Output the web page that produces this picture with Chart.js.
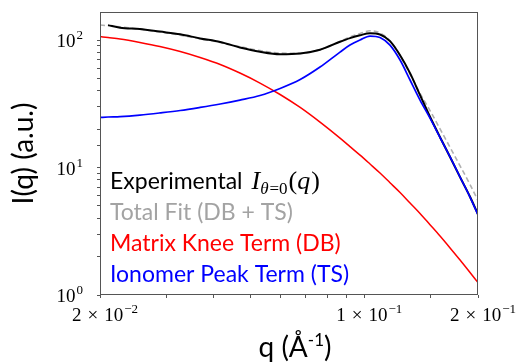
<!DOCTYPE html>
<html>
<head>
<meta charset="utf-8">
<script src="https://cdn.jsdelivr.net/npm/chart.js@4.4.0/dist/chart.umd.min.js"></script>
<style>
  html, body { margin: 0; padding: 0; background: #fff; }
</style>
</head>
<body>
<canvas id="saxs" width="525" height="364"></canvas>
<script>
// scattering vector q (1/Å) and intensities I(q) in a.u.
const qValues = [0.0200, 0.0210, 0.0226, 0.0255, 0.0288, 0.0326, 0.0368, 0.0416, 0.0469, 0.0530,
  0.0599, 0.0677, 0.0764, 0.0863, 0.0917, 0.0975, 0.1036, 0.1101, 0.1170, 0.1244,
  0.1322, 0.1405, 0.1493, 0.1587, 0.1687, 0.1793, 0.1905, 0.2000];

const experimental = [null, 131, 125, 122, 116.5, 111, 103, 96.5, 87.5, 81,
  77.5, 78.5, 84, 97, 103.5, 109, 113, 110.5, 98, 76,
  55, 37, 25, 17.3, 12.1, 8.4, 5.9, 4.3];

const totalFit = [131.2, 129.5, 126.9, 121.4, 115.7, 109.2, 102.5, 95.8, 88.9, 82.7,
  79.1, 78.6, 84.1, 97.5, 105.9, 112.5, 118.2, 113.7, 98.9, 76.1,
  53.9, 38.2, 28.0, 20.1, 14.4, 10.3, 7.37, 5.49];

const matrixKnee = [106.5, 104.6, 101.8, 95.6, 88.9, 81.2, 72.9, 64.3, 55.1, 46.0,
  37.4, 29.6, 22.7, 17.0, 14.6, 12.5, 10.65, 9.05, 7.60, 6.37,
  5.27, 4.36, 3.56, 2.90, 2.34, 1.88, 1.50, 1.25];

const ionomerPeak = [24.7, 24.9, 25.1, 25.8, 26.8, 28.0, 29.6, 31.5, 33.8, 36.7,
  41.7, 49.0, 61.4, 80.5, 91.3, 100, 107.5, 104.6, 91.3, 69.7,
  48.6, 33.8, 24.4, 17.2, 12.1, 8.42, 5.87, 4.24];

// labelled ticks: mantissa x 10^exponent
const xTickValues = [0.02, 0.1, 0.2];
const xTickMantissa = ['2', '1', '2'];
const xTickExponent = ['\u22122', '\u22121', '\u22121'];
const yTickValues = [1, 10, 100];
const yTickExponent = ['0', '1', '2'];

const SERIF = '"Liberation Serif", "DejaVu Serif", serif';
const SANS = 'Lato, "Open Sans", sans-serif';

function toPoints(values) {
  return qValues.map((q, i) => ({ x: q, y: values[i] }));
}

// "m × 10^e" (or "10^e" when m is empty) at baseline y
function drawPower(ctx, mant, exp, x, y, align) {
  const gap = 6;
  const parts = mant ? [mant, '\u00D7', '10'] : ['10'];
  ctx.font = '19px ' + SERIF;
  const widths = parts.map(p => ctx.measureText(p).width);
  const wb = widths.reduce((a, b) => a + b, 0) + gap * (parts.length - 1);
  ctx.font = '13px ' + SERIF;
  const we = ctx.measureText(exp).width;
  const w = wb + 1 + we;
  let left = align === 'right' ? x - w : x - w / 2;
  ctx.font = '19px ' + SERIF;
  parts.forEach((p, i) => {
    ctx.fillText(p, left, y);
    left += widths[i] + gap;
  });
  left -= gap;
  ctx.font = '13px ' + SERIF;
  ctx.fillText(exp, left + 1, y - 8);
}

const axisText = {
  id: 'axisText',
  afterDraw(chart) {
    const ctx = chart.ctx;
    const area = chart.chartArea;
    const xs = chart.scales.x, ys = chart.scales.y;
    ctx.save();

    // frame
    ctx.strokeStyle = '#555';
    ctx.lineWidth = 1;
    ctx.strokeRect(Math.round(area.left) + 0.5, Math.round(area.top) + 0.5,
      Math.round(area.right - area.left) - 1, Math.round(area.bottom - area.top) - 1);

    ctx.fillStyle = '#000';
    ctx.textAlign = 'left';
    ctx.textBaseline = 'alphabetic';

    xTickValues.forEach((v, i) => {
      drawPower(ctx, xTickMantissa[i], xTickExponent[i], xs.getPixelForValue(v) + 5, area.bottom + 26, 'center');
    });
    yTickValues.forEach((v, i) => {
      drawPower(ctx, '', yTickExponent[i], area.left - 17, ys.getPixelForValue(v) + 7, 'right');
    });

    // axis titles
    ctx.font = '28px ' + SANS;
    ctx.save();
    ctx.translate(24, (area.top + area.bottom) / 2);
    ctx.rotate(-Math.PI / 2);
    ctx.textAlign = 'center';
    ctx.textBaseline = 'middle';
    ctx.fillText('I(q) (a.u.)', 0, 0);
    ctx.restore();

    const head = 'q (\u00C5', sup = '-1', tail = ')';
    ctx.font = '28px ' + SANS;
    const wh = ctx.measureText(head).width, wt = ctx.measureText(tail).width;
    ctx.font = '17px ' + SANS;
    const ws = ctx.measureText(sup).width;
    const x = 295 - (wh + ws + wt) / 2;
    const base = 357;
    ctx.font = '28px ' + SANS;
    ctx.fillText(head, x, base);
    ctx.font = '17px ' + SANS;
    ctx.fillText(sup, x + wh, base - 11);
    ctx.font = '28px ' + SANS;
    ctx.fillText(tail, x + wh + ws, base);

    ctx.restore();
  }
};

const legendText = {
  id: 'legendText',
  afterDraw(chart) {
    const ctx = chart.ctx;
    const area = chart.chartArea;
    const x0 = area.left + 10;
    ctx.save();
    ctx.textAlign = 'left';
    ctx.textBaseline = 'alphabetic';
    chart.data.datasets.forEach((ds, i) => {
      const y = area.top + 177 + i * 31;
      ctx.font = '23px ' + SANS;
      ctx.fillStyle = ds.legendColor || ds.borderColor;
      ctx.fillText(ds.label, x0, y);
      if (i === 0) {
        // I_{θ=0}(q)
        let x = x0 + ctx.measureText(ds.label).width + 9;
        ctx.font = 'italic 26px ' + SERIF;
        ctx.fillText('I', x, y);
        x += ctx.measureText('I').width;
        ctx.font = 'italic 17px ' + SERIF;
        ctx.fillText('\u03B8', x, y + 5);
        x += ctx.measureText('\u03B8').width + 1;
        ctx.font = '17px ' + SERIF;
        ctx.fillText('=0', x, y + 5);
        x += ctx.measureText('=0').width + 1;
        ctx.font = '26px ' + SERIF;
        ctx.fillText('(', x, y);
        x += ctx.measureText('(').width;
        ctx.font = 'italic 26px ' + SERIF;
        ctx.fillText('q', x, y);
        x += ctx.measureText('q').width + 1;
        ctx.font = '26px ' + SERIF;
        ctx.fillText(')', x, y);
      }
    });
    ctx.restore();
  }
};

const ctx = document.getElementById('saxs');
const chart = new Chart(ctx, {
  type: 'line',
  data: {
    datasets: [
      { label: 'Experimental', data: toPoints(experimental), borderColor: '#000000', borderWidth: 2, order: 2 },
      { label: 'Total Fit (DB + TS)', data: toPoints(totalFit), borderColor: '#b0b0b0', legendColor: '#a3a3a3',
        borderWidth: 1.6, borderDash: [5, 3], order: 3 },
      { label: 'Matrix Knee Term (DB)', data: toPoints(matrixKnee), borderColor: '#ff0000', borderWidth: 1.5, order: 1 },
      { label: 'Ionomer Peak Term (TS)', data: toPoints(ionomerPeak), borderColor: '#0000ff', borderWidth: 1.7, order: 0 }
    ]
  },
  options: {
    responsive: false,
    animation: false,
    devicePixelRatio: 1,
    elements: { point: { radius: 0 }, line: { cubicInterpolationMode: 'monotone' } },
    layout: { padding: { top: 12, right: 47, left: 0, bottom: 0 } },
    plugins: { legend: { display: false }, tooltip: { enabled: false } },
    scales: {
      x: {
        type: 'logarithmic',
        min: 0.02,
        max: 0.2,
        border: { display: false },
        grid: { drawOnChartArea: false, drawTicks: true, tickLength: 3, color: '#555' },
        ticks: { display: false, autoSkip: false },
        afterFit(scale) { scale.height = 69; }
      },
      y: {
        type: 'logarithmic',
        min: 1,
        max: 166,
        border: { display: false },
        grid: { drawOnChartArea: false, drawTicks: true, tickLength: 3, color: '#555' },
        ticks: { display: false, autoSkip: false },
        afterBuildTicks(scale) { scale.ticks = scale.ticks.filter(t => t.value <= 100); },
        afterFit(scale) { scale.width = 100; }
      }
    }
  },
  plugins: [axisText, legendText]
});
</script>
</body>
</html>
